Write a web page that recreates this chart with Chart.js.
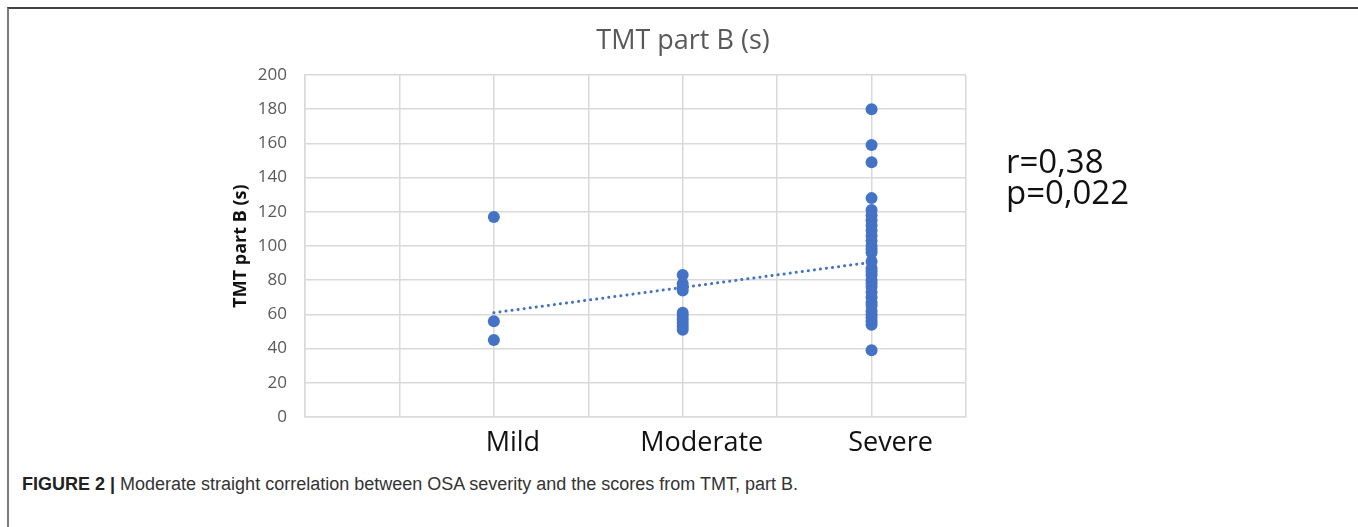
<!DOCTYPE html>
<html>
<head>
<meta charset="utf-8">
<script src="https://cdn.jsdelivr.net/npm/chart.js@4.4.0/dist/chart.umd.min.js"></script>
<style>
html,body{margin:0;padding:0;background:#fff;}
body{width:1358px;height:527px;position:relative;overflow:hidden;}
#frame{position:absolute;left:7px;top:7px;width:1360px;height:530px;border-left:2px solid #7a7a7a;border-top:2px solid #444;box-sizing:border-box;}
#wrap{position:absolute;left:0;top:0;width:1358px;height:460px;}
#stats{position:absolute;left:1006px;top:145px;font-family:"Open Sans",sans-serif;font-size:33px;line-height:31px;color:#111;}
#caption{position:absolute;left:22px;top:474px;font-family:"Liberation Sans Narrow","Arial Narrow","Liberation Sans",sans-serif;font-size:18px;color:#333;white-space:nowrap;}
#caption b{font-weight:bold;color:#222;}
</style>
</head>
<body>
<div id="frame"></div>
<div id="wrap"><canvas id="c"></canvas></div>
<div id="stats">r=0,38<br>p=0,022</div>
<div id="caption"><b>FIGURE 2 |</b> Moderate straight correlation between OSA severity and the scores from TMT, part B.</div>
<script>
const categories = ['Mild', 'Moderate', 'Severe'];
const mildValues = [117, 56, 45];
const moderateValues = [83, 78, 76, 74, 61, 59, 57, 55, 53, 51];
const severeValues = [180, 159, 149, 128, 121, 118, 115, 112, 109, 106, 103, 100, 98, 96, 91, 87, 85, 83, 80, 78, 76, 73, 70, 67, 65, 62, 60, 58, 56, 54, 39];
const trendX = [1, 3];
const trendY = [61, 90.5];
const yTicks = [0, 20, 40, 60, 80, 100, 120, 140, 160, 180, 200];
const chartTitle = 'TMT part B (s)';

const groups = [mildValues, moderateValues, severeValues];
const points = [];
groups.forEach((vals, i) => vals.forEach(v => points.push({x: i + 1, y: v})));
const trend = trendX.map((x, i) => ({x: x, y: trendY[i]}));

const blue = '#4472C4';
const gridCol = '#d9d9d9';

const centeredTitle = {
  id: 'centeredTitle',
  afterDraw(chart) {
    const ctx = chart.ctx;
    ctx.save();
    ctx.font = '27px "Open Sans"';
    ctx.fillStyle = '#595959';
    ctx.textAlign = 'center';
    ctx.textBaseline = 'middle';
    ctx.fillText(chartTitle, chart.width / 2 + 4, 41);
    ctx.restore();
  }
};

new Chart(document.getElementById('c'), {
  type: 'scatter',
  data: {
    datasets: [
      {
        label: 'TMT part B (s)',
        data: points,
        backgroundColor: blue,
        borderColor: blue,
        pointRadius: 6,
        pointBorderWidth: 0,
        order: 1
      },
      {
        label: 'Linear trend',
        type: 'line',
        data: trend,
        showLine: true,
        borderColor: blue,
        borderWidth: 3,
        borderDash: [0.1, 6],
        borderCapStyle: 'round',
        pointRadius: 0,
        fill: false,
        order: 2
      }
    ]
  },
  plugins: [centeredTitle],
  options: {
    responsive: true,
    maintainAspectRatio: false,
    animation: false,
    layout: { padding: { left: 230, right: 392, top: 75, bottom: 0 } },
    plugins: {
      legend: { display: false },
      tooltip: { enabled: false },
      title: { display: false }
    },
    scales: {
      x: {
        type: 'linear',
        min: 0,
        max: 3.5,
        afterFit: s => { s.height = 43; },
        grid: { color: gridCol, lineWidth: 1.5, drawTicks: false },
        border: { display: true, color: gridCol, width: 1.5 },
        ticks: {
          stepSize: 0.5,
          autoSkip: false,
          maxRotation: 0,
          padding: 10,
          labelOffset: 19,
          color: '#111',
          font: { family: 'Open Sans', size: 27 },
          callback: v => (Number.isInteger(v) && v >= 1 && v <= categories.length) ? categories[v - 1] : ''
        }
      },
      y: {
        min: 0,
        max: 200,
        afterFit: s => { s.width = 75; },
        afterBuildTicks: s => { s.ticks = yTicks.map(v => ({value: v})); },
        grid: { color: gridCol, lineWidth: 1.5, drawTicks: false },
        border: { display: true, color: gridCol, width: 1.5 },
        ticks: {
          padding: 18,
          color: '#595959',
          font: { family: 'Open Sans', size: 17 }
        },
        title: {
          display: true,
          text: 'TMT part B (s)',
          color: '#111',
          font: { family: 'Open Sans', size: 18, weight: 'bold', lineHeight: 1.2 },
          padding: 0
        }
      }
    }
  }
});
</script>
</body>
</html>
